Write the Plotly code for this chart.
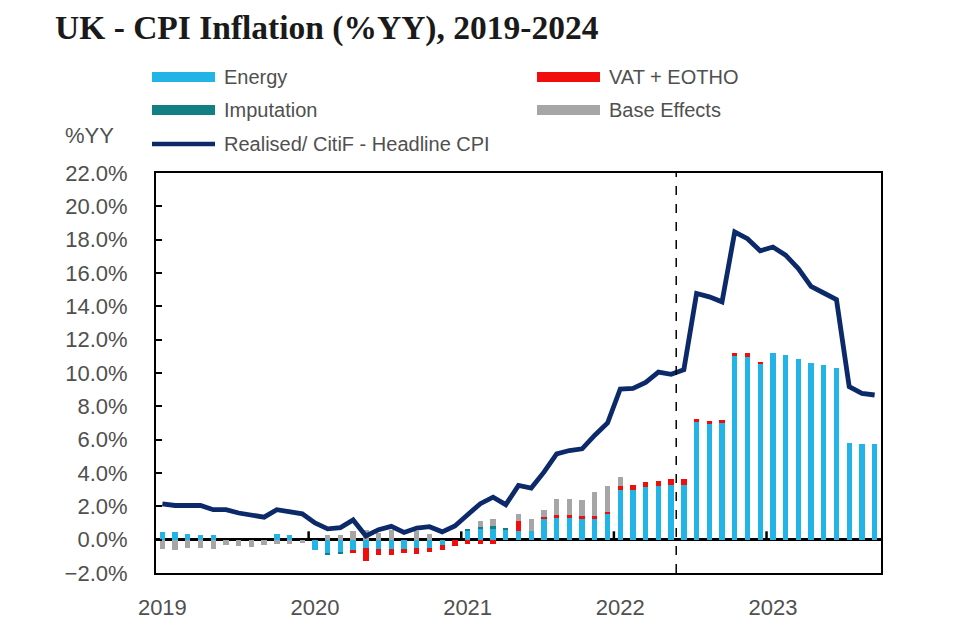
import plotly.graph_objects as go

# ---------------- data ----------------
months = list(range(57))  # Jan 2019 .. Sep 2023
years = ["2019", "2020", "2021", "2022", "2023"]
year_start_idx = [0, 12, 24, 36, 48]

energy = [0.48, 0.48, 0.32, 0.28, 0.26, 0, 0, 0, 0, 0.32, 0.28, 0,
          -0.63, -0.78, -0.73, -0.59, -0.52, -0.55, -0.55, -0.55, -0.47, -0.47, -0.3, 0,
          0.55, 0.62, 0.62, 0.6, 0.55, 0.55, 1.22, 1.32, 1.3, 1.25, 1.22, 1.52,
          2.98, 2.98, 3.18, 3.22, 3.3, 3.28, 7.06, 6.92, 7.0, 11.0, 10.98, 10.55,
          11.2, 11.1, 10.86, 10.58, 10.46, 10.3, 5.79, 5.73, 5.73]

imputation = [0] * 13 + [-0.15, -0.15] + [0] * 9 + [0.05, 0.17, 0.2, 0.06] + [0] * 29

vat = ([0] * 15 +
       [-0.21, -0.78, -0.34, -0.34, -0.24, -0.38, -0.29, -0.3, -0.39,
        -0.23, -0.23, -0.23, 0, 0.55, 0, 0.17, 0.17, 0.17, 0.18, 0.18, 0.17,
        0.27, 0.29, 0.3, 0.32, 0.33, 0.35, 0.18, 0.2, 0.2, 0.2, 0.2, 0.14] +
       [0] * 9)

base = [-0.58, -0.62, -0.48, -0.48, -0.57, -0.32, -0.38, -0.44, -0.32, -0.28, -0.27, -0.2,
        0, 0.3, 0.31, 0.51, 0.6, 0.42, 0.57, 0, 0.52, 0.35, 0, 0,
        0, 0.33, 0.44, 0, 0.43, 0.72, 0.38, 0.95, 0.97, 0.97, 1.47, 1.52,
        0.54] + [0] * 20

headline = [2.15, 2.05, 2.05, 2.05, 1.8, 1.8, 1.6, 1.5, 1.35, 1.8, 1.7, 1.55,
            1.0, 0.65, 0.72, 1.18, 0.22, 0.6, 0.8, 0.43, 0.7, 0.78, 0.47, 0.82,
            1.5, 2.16, 2.55, 2.1, 3.25, 3.1, 4.05, 5.15, 5.35, 5.45, 6.27, 7.0,
            9.04, 9.08, 9.44, 10.05, 9.92, 10.2, 14.77, 14.57, 14.27, 18.46, 18.06, 17.33,
            17.56, 17.07, 16.27, 15.2, 14.8, 14.4, 9.18, 8.78, 8.68]

forecast_start = 40.4  # dashed line between May and Jun 2022

C_ENERGY = "#22B4E6"
C_VAT = "#F20D0D"
C_IMP = "#127F82"
C_BASE = "#A6A6A6"
C_LINE = "#0C2A69"

SANS = "'Liberation Sans', Arial, sans-serif"
TXT = "#505050"

fig = go.Figure()
bw = 0.42
for name, vals, col in [("Energy", energy, C_ENERGY), ("Imputation", imputation, C_IMP),
                        ("VAT + EOTHO", vat, C_VAT), ("Base Effects", base, C_BASE)]:
    fig.add_trace(go.Bar(x=months, y=vals, name=name, width=bw,
                         marker=dict(color=col, line=dict(width=0)), showlegend=False))
fig.add_trace(go.Scatter(x=months, y=headline, mode="lines", name="Realised/ CitiF - Headline CPI",
                         line=dict(color=C_LINE, width=4.8), showlegend=False))

# page has an 8px body margin: work in page coords and shift
OFF = 8
W, H = 962 - OFF, 638 - OFF
L, T = 156 - OFF, 173 - OFF
R = W - (881 - OFF)
B = H - (573 - OFF)
PW, PH = W - L - R, H - T - B


def px(x):
    return (x - OFF - L) / PW


def py(y):
    return (H - B - (y - OFF)) / PH


shapes = []
annotations = []
# year tick marks on the zero line
for s in year_start_idx[1:]:
    shapes.append(dict(type="line", xref="x", yref="y", x0=s - 0.5, x1=s - 0.5, y0=0, y1=0.5,
                       line=dict(color="black", width=2.5)))
# forecast divider
shapes.append(dict(type="line", xref="x", yref="paper", x0=forecast_start, x1=forecast_start,
                   y0=0, y1=1, line=dict(color="black", width=1.5, dash="dash")))

# manual legend
leg = [("Energy", C_ENERGY, 152, 77, "rect"), ("Imputation", C_IMP, 152, 110, "rect"),
       ("Realised/ CitiF - Headline CPI", C_LINE, 152, 144, "line"),
       ("VAT + EOTHO", C_VAT, 537, 77, "rect"), ("Base Effects", C_BASE, 537, 110, "rect")]
for text, col, x0, yc, kind in leg:
    if kind == "rect":
        shapes.append(dict(type="rect", xref="paper", yref="paper", x0=px(x0), x1=px(x0 + 63),
                           y0=py(yc + 5), y1=py(yc - 5), fillcolor=col, line=dict(width=0)))
    else:
        shapes.append(dict(type="line", xref="paper", yref="paper", x0=px(x0), x1=px(x0 + 63),
                           y0=py(yc), y1=py(yc), line=dict(color=col, width=4.5)))
    annotations.append(dict(text=text, xref="paper", yref="paper", x=px(x0 + 70), y=py(yc),
                            xanchor="left", yanchor="middle", showarrow=False,
                            font=dict(family=SANS, size=20, color=TXT)))

annotations.append(dict(text="%YY", xref="paper", yref="paper", x=px(63), y=py(136),
                        xanchor="left", yanchor="middle", showarrow=False,
                        font=dict(family=SANS, size=22, color=TXT)))

fig.update_layout(
    width=W, height=H,
    margin=dict(l=L, r=R, t=T, b=B, autoexpand=False),
    paper_bgcolor="white", plot_bgcolor="white",
    barmode="relative", bargap=0,
    title=dict(text="<b>UK - CPI Inflation (%YY), 2019-2024</b>", x=(55 - OFF) / W, xanchor="left",
               y=1 - (27 - OFF) / H, yanchor="middle",
               font=dict(family="'Liberation Serif', 'Times New Roman', serif", size=33.5,
                         color="#1a1a1a")),
    shapes=shapes, annotations=annotations, showlegend=False,
    xaxis=dict(range=[-0.5, 56.5], tickvals=year_start_idx, ticktext=years, ticks="",
               showline=True, linecolor="black", linewidth=2, mirror=True, showgrid=False,
               zeroline=False, ticklabelstandoff=14,
               tickfont=dict(family=SANS, size=22, color=TXT)),
    yaxis=dict(range=[-2, 22], dtick=2, tick0=0, tickformat=".1f", ticksuffix="%",
               ticks="inside", ticklen=6, tickwidth=2, tickcolor="black",
               showline=True, linecolor="black", linewidth=2, mirror=True, showgrid=False,
               zeroline=True, zerolinecolor="black", zerolinewidth=2.5,
               ticklabelstandoff=22,
               tickfont=dict(family=SANS, size=22, color=TXT)),
)

fig.write_html("out.html")
